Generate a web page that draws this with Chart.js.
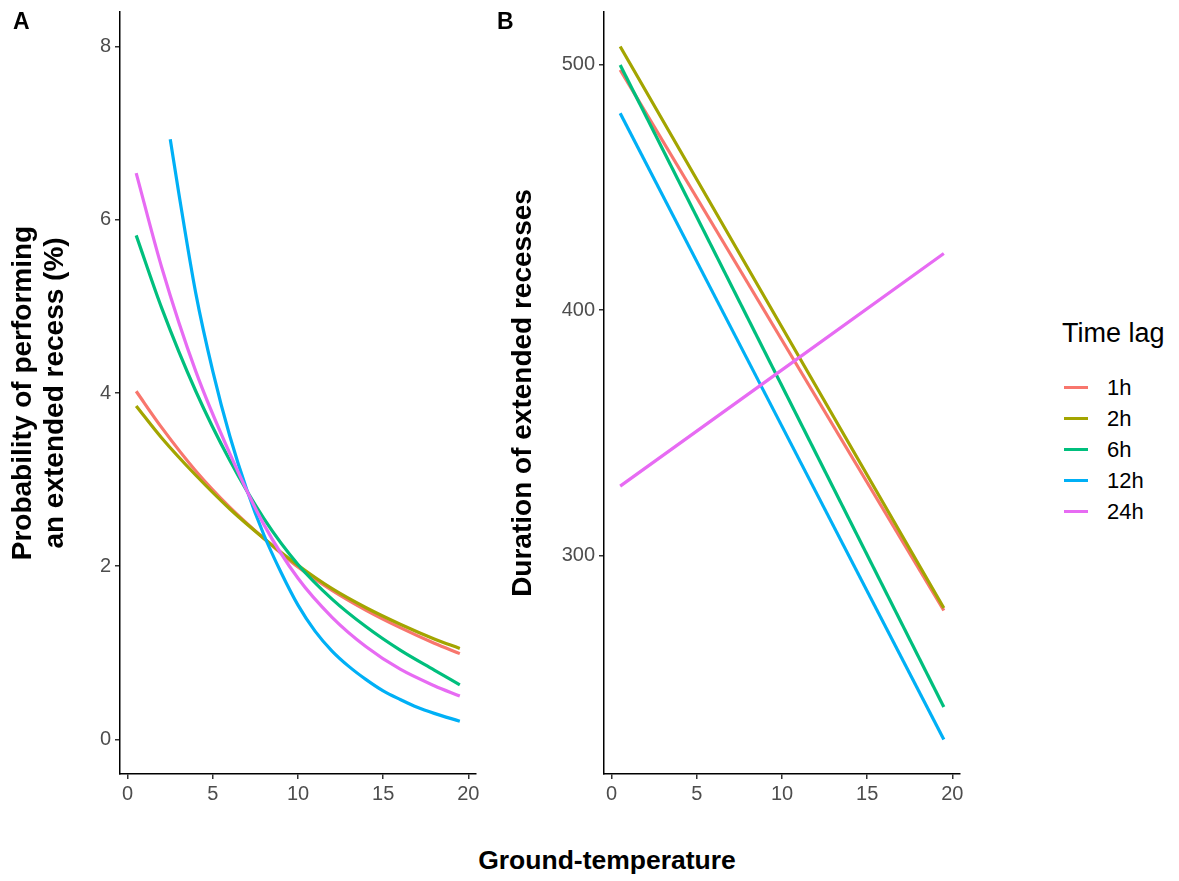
<!DOCTYPE html>
<html><head><meta charset="utf-8">
<script src="https://cdn.jsdelivr.net/npm/chart.js@4"></script>
<style>
body{margin:0;background:#fff;width:1179px;height:881px;position:relative;overflow:hidden;font-family:"Liberation Sans",Arial,Helvetica,sans-serif;}
canvas{position:absolute;top:0;}
#cA{left:0px}
#cB{left:484px}
.plbl{position:absolute;font-weight:bold;font-size:23px;line-height:1;color:#000}
#xtitle{position:absolute;left:0;width:1214px;text-align:center;top:847px;font-weight:bold;font-size:26.5px;line-height:1;color:#000}
#legend{position:absolute;left:1062px;top:320px;color:#000}
#legend .ttl{font-size:27px;line-height:1;margin-bottom:25px}
#legend .row{display:flex;align-items:center;height:31px;line-height:31px;font-size:22px}
#legend .key{width:24px;height:3px;margin-left:2px;margin-right:19px}
</style></head><body>
<canvas id="cA" width="490" height="830"></canvas>
<canvas id="cB" width="490" height="830"></canvas>
<div class="plbl" style="left:13px;top:10px">A</div>
<div class="plbl" style="left:497px;top:10px">B</div>
<div id="xtitle">Ground-temperature</div>
<div id="legend"><div class="ttl">Time lag</div></div>
<script>
// ---- data ----
const seriesNames = ['1h', '2h', '6h', '12h', '24h'];
const seriesColors = ['#F8766D', '#A3A500', '#00BF7D', '#00B0F6', '#E76BF3'];
const legendTitle = 'Time lag';

const xTicks = [0, 5, 10, 15, 20];
const yTicksA = [0, 2, 4, 6, 8];
const yTicksB = [300, 400, 500];

// Panel A: probability of performing an extended recess (%)
const tempsA = [0.5, 2, 4, 6, 8, 10, 12, 14, 16, 18, 19.5];
const tempsA12h = [2.5, 3, 4, 5, 6, 7, 8, 9, 10, 11, 12, 13, 14, 15, 16, 17, 18, 19.5];
const probA1h  = [4.02, 3.60, 3.10, 2.68, 2.32, 1.99, 1.72, 1.49, 1.29, 1.11, 0.99];
const probA2h  = [3.85, 3.48, 3.05, 2.66, 2.32, 2.01, 1.74, 1.52, 1.33, 1.16, 1.05];
const probA6h  = [5.82, 4.98, 4.02, 3.22, 2.55, 2.02, 1.62, 1.30, 1.03, 0.80, 0.63];
const probA12h = [6.93, 6.31, 5.15, 4.25, 3.50, 2.88, 2.36, 1.93, 1.55, 1.25, 1.02, 0.84, 0.69, 0.56, 0.46, 0.37, 0.30, 0.21];
const probA24h = [6.54, 5.45, 4.25, 3.30, 2.48, 1.86, 1.41, 1.07, 0.81, 0.62, 0.50];

// Panel B: duration of extended recesses
const tempsB = [0.5, 19.5];
const durB1h  = [498.0, 277.5];
const durB2h  = [507.5, 278.5];
const durB6h  = [500.0, 238.1];
const durB12h = [480.3, 224.9];
const durB24h = [328.2, 423.1];

// ---- helpers ----
const FONT = '"Liberation Sans", Arial, Helvetica, sans-serif';
const CANVAS_H = 830, AXIS_BOTTOM = 774, AXIS_LEFT = 120;

function pts(xs, ys) { return xs.map((x, i) => ({x: x, y: ys[i]})); }

function makeDatasets(xsList, ysList) {
  return seriesNames.map((name, i) => ({
    label: name,
    data: pts(xsList[i], ysList[i]),
    borderColor: seriesColors[i],
    backgroundColor: seriesColors[i],
    borderWidth: 3.2,
    pointRadius: 0,
    fill: false,
    cubicInterpolationMode: 'monotone',
    order: seriesNames.length - i
  }));
}

function makeOptions(yMin, yMax, yTicks, yTitle, titlePadTop) {
  const tickFont = {family: FONT, size: 20};
  const grid = {display: true, drawOnChartArea: false, drawTicks: true, tickLength: 5, color: '#333333', lineWidth: 1.5};
  const border = {display: true, color: '#000000', width: 1.5};
  return {
    responsive: false,
    animation: false,
    layout: {padding: {top: 12, right: 14, left: 0, bottom: 0}},
    plugins: {legend: {display: false}, tooltip: {enabled: false}},
    scales: {
      x: {
        type: 'linear', min: -0.45, max: 20.45,
        afterBuildTicks: s => { s.ticks = xTicks.map(v => ({value: v})); },
        afterFit: s => { s.height = CANVAS_H - AXIS_BOTTOM; s.paddingLeft = 0; s.paddingRight = 0; },
        ticks: {font: tickFont, color: '#4D4D4D', padding: 3, maxRotation: 0, autoSkip: false},
        grid: grid, border: border
      },
      y: {
        type: 'linear', min: yMin, max: yMax,
        afterBuildTicks: s => { s.ticks = yTicks.map(v => ({value: v})); },
        afterFit: s => { s.width = AXIS_LEFT; s.paddingTop = 0; s.paddingBottom = 0; },
        ticks: {font: tickFont, color: '#4D4D4D', padding: 4, autoSkip: false},
        grid: grid, border: border,
        title: {display: true, text: yTitle, color: '#000000',
                font: {family: FONT, size: 28, weight: 'bold', lineHeight: 1.13},
                padding: {top: titlePadTop, bottom: 0}}
      }
    }
  };
}

new Chart(document.getElementById('cA'), {
  type: 'line',
  data: {datasets: makeDatasets(
    [tempsA, tempsA, tempsA, tempsA12h, tempsA],
    [probA1h, probA2h, probA6h, probA12h, probA24h])},
  options: makeOptions(-0.4, 8.4, yTicksA, ['Probability of performing', 'an extended recess (%)'], 7.7)
});

new Chart(document.getElementById('cB'), {
  type: 'line',
  data: {datasets: makeDatasets(
    [tempsB, tempsB, tempsB, tempsB, tempsB],
    [durB1h, durB2h, durB6h, durB12h, durB24h])},
  options: makeOptions(210.8, 521.6, yTicksB, 'Duration of extended recesses', 23)
});

// legend (HTML)
const lg = document.getElementById('legend');
lg.querySelector('.ttl').textContent = legendTitle;
seriesNames.forEach((name, i) => {
  const row = document.createElement('div');
  row.className = 'row';
  const key = document.createElement('span');
  key.className = 'key';
  key.style.background = seriesColors[i];
  const txt = document.createElement('span');
  txt.textContent = name;
  row.appendChild(key); row.appendChild(txt);
  lg.appendChild(row);
});
</script>
</body></html>
